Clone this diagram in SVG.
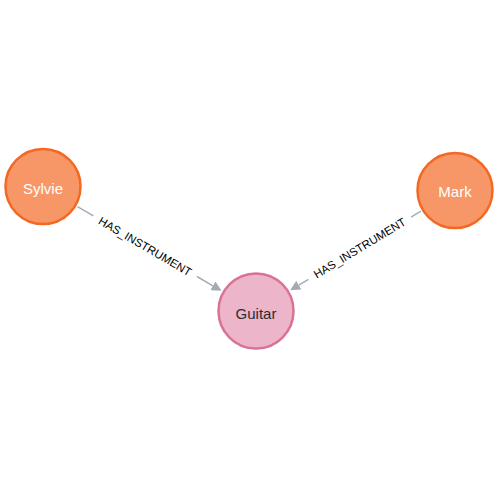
<svg xmlns="http://www.w3.org/2000/svg" width="498" height="498" viewBox="0 0 498 498">
<style>
.edge{stroke:#A5ABB6;stroke-width:1.5;fill:none}
.elabel{font-family:"Liberation Sans",Arial,sans-serif;font-size:11.5px;fill:#000;text-anchor:middle}
.person circle{fill:#F79767;stroke:#F36924;stroke-width:2.5}
.instr circle{fill:#ECB5C9;stroke:#DA7298;stroke-width:2.5}
.nlabel{font-family:"Liberation Sans",Arial,sans-serif;font-size:15px;text-anchor:middle}
.person .nlabel{fill:#FFFFFF}
.instr .nlabel{fill:#2A2C34}
</style>
<defs>
<marker id="arr" markerUnits="userSpaceOnUse" markerWidth="10" markerHeight="10" refX="0" refY="5" orient="auto" viewBox="0 0 10 10">
<path d="M0,0 L10,5 L0,10 z" fill="#A5ABB6"/>
</marker>
</defs>
<rect width="498" height="498" fill="#FFFFFF"/>
<g id="connectors">
<g id="e-sylvie-guitar">
<line class="edge" x1="77.5" y1="206.7" x2="93.4" y2="215.9"/>
<line class="edge" x1="197" y1="276.5" x2="212.9" y2="285.8" marker-end="url(#arr)"/>
<text class="elabel" transform="translate(145.2,246.2) rotate(30.31)" y="4.2">HAS_INSTRUMENT</text>
</g>
<g id="e-mark-guitar">
<line class="edge" x1="420.8" y1="211.2" x2="411.1" y2="217.1"/>
<line class="edge" x1="308.5" y1="279.3" x2="298.8" y2="285.1" marker-end="url(#arr)"/>
<text class="elabel" transform="translate(359.8,248.2) rotate(-31.2)" y="3.8">HAS_INSTRUMENT</text>
</g>
</g>
<g id="node-sylvie" class="person">
<circle cx="43" cy="186.5" r="37.5"/>
<text class="nlabel" x="43" y="193.5">Sylvie</text>
</g>
<g id="node-mark" class="person">
<circle cx="455" cy="190.5" r="37.5"/>
<text class="nlabel" x="455" y="197.3">Mark</text>
</g>
<g id="node-guitar" class="instr">
<circle cx="256" cy="311" r="37.5"/>
<text class="nlabel" x="256" y="318.5">Guitar</text>
</g>
</svg>
